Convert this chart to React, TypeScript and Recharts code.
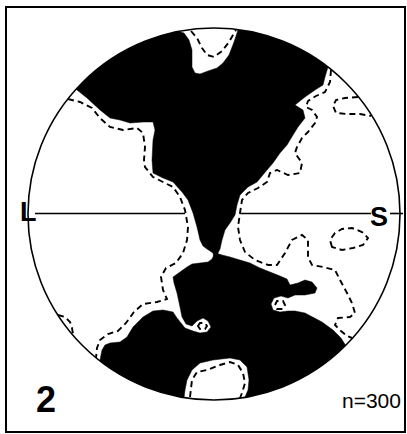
import React from 'react';
import {
  ScatterChart,
  Scatter,
  XAxis,
  YAxis,
  ReferenceDot,
  ReferenceLine,
} from 'recharts';

type Pt = { x: number; y: number };

// Net coordinates: centre at 0,0, primitive circle radius 186 units
const NET_RADIUS = 186;

const p = (list: number[][]): Pt[] => list.map(([x, y]) => ({ x, y }));

// Shaded maximum, upper half (edges outside the circle are clipped away)
const upperMaximum = p([
  [-154, 154], [-144, 130], [-137, 124], [-127, 116], [-114, 104], [-104, 96],
  [-94, 94], [-84, 91], [-71, 92], [-61, 92], [-59, 84], [-61, 74], [-62, 54],
  [-61, 41], [-51, 36], [-41, 32], [-32, 22], [-26, 14], [-21, 1], [-17, -13],
  [-14, -26], [-11, -32], [-7, -35], [-1, -39], [0, -45], [5, -45], [4, -39],
  [6, -35], [8, -26], [11, -16], [16, -9], [21, -1], [23, 9], [26, 19], [34, 27],
  [43, 32], [53, 44], [59, 51], [66, 61], [73, 69], [79, 79], [84, 87], [91, 96],
  [89, 104], [81, 109], [91, 117], [101, 124], [109, 129], [111, 137], [114, 147],
  [131, 159], [86, 204], [26, 204], [24, 184], [20, 172], [15, 159], [9, 151],
  [3, 146], [-6, 143], [-14, 140], [-19, 141], [-22, 147], [-22, 164], [-25, 174],
  [-30, 181], [-37, 183], [-39, 204], [-114, 204],
]);

// Shaded maximum, lower half
const lowerMaximum = p([
  [-129, -161], [-114, -146], [-112, -136], [-109, -131], [-104, -129], [-94, -128],
  [-87, -123], [-81, -113], [-71, -103], [-61, -97], [-51, -96], [-41, -98],
  [-37, -104], [-29, -114], [-21, -117], [-14, -119], [-7, -118], [-3, -113],
  [-6, -107], [-11, -104], [-17, -107], [-22, -112], [-28, -110], [-32, -103],
  [-34, -93], [-37, -79], [-40, -69], [-41, -63], [-34, -58], [-27, -53], [-22, -50],
  [-14, -49], [-6, -48], [-2, -45], [0, -41], [5, -40], [8, -41], [16, -43],
  [26, -46], [36, -49], [46, -54], [56, -58], [66, -62], [73, -65], [76, -71],
  [84, -69], [91, -66], [98, -68], [103, -74], [101, -79], [91, -81], [81, -81],
  [74, -84], [67, -82], [60, -84], [57, -90], [59, -96], [66, -98], [74, -97],
  [81, -97], [91, -99], [108, -108], [119, -116], [127, -124], [132, -132],
  [151, -148], [86, -206], [33, -196], [31, -183], [34, -176], [35, -166],
  [33, -153], [26, -146], [16, -144], [-1, -146], [-14, -149], [-22, -156],
  [-27, -166], [-29, -176], [-30, -184], [-32, -198], [-94, -201],
]);

// Dashed lower contour lines
const westContour = p([
  [-146, 115], [-134, 112], [-122, 106], [-114, 96], [-104, 87], [-91, 84],
  [-77, 86], [-71, 81], [-69, 67], [-70, 54], [-69, 47], [-61, 37], [-51, 32],
  [-41, 27], [-34, 17], [-29, 4], [-26, -13], [-27, -26], [-31, -39], [-38, -49],
  [-48, -54], [-53, -63], [-51, -76], [-47, -85], [-57, -88], [-71, -90],
  [-80, -98], [-88, -109], [-96, -117], [-106, -120], [-114, -126], [-117, -134],
  [-118, -144],
]);

const northContour = p([
  [-23, 183], [-17, 176], [-12, 166], [-7, 159], [0, 157], [8, 163], [15, 172],
  [19, 179], [22, 184],
]);

const eastContour = p([
  [117, 144], [116, 132], [111, 122], [102, 118], [94, 113], [92, 107], [98, 104],
  [103, 97], [101, 91], [94, 82], [88, 76], [83, 67], [81, 61], [88, 51], [86, 41],
  [74, 39], [63, 44], [56, 41], [53, 32], [44, 26], [34, 21], [28, 14], [26, 1],
  [24, -13], [26, -26], [31, -38], [41, -46], [54, -51], [63, -51], [71, -39],
  [78, -26], [88, -21], [94, -26], [94, -43], [98, -51], [109, -53], [121, -56],
  [126, -66], [133, -79], [138, -89], [141, -99], [136, -103], [124, -104],
  [121, -111], [127, -117], [133, -122], [138, -124],
]);

const northEastRim = p([
  [144, 117], [131, 116], [122, 114], [119, 108], [122, 101], [133, 100],
  [146, 100], [157, 98],
]);

const southContour = p([
  [-24, -183], [-22, -166], [-17, -158], [-7, -156], [6, -151], [16, -148],
  [24, -151], [29, -159], [31, -169], [28, -179], [26, -184],
]);

const southWestRim = p([
  [-156, -101], [-149, -103], [-144, -108], [-142, -114], [-141, -120],
]);

// Closed dashed loops
const eastLoop = p([
  [118, -33], [116, -26], [121, -19], [128, -15], [138, -14], [148, -18],
  [154, -24], [149, -31], [139, -34], [128, -36],
]);

const westPocket = p([
  [-16, -112], [-14, -109], [-9, -109], [-7, -112], [-9, -115], [-14, -115],
]);

const eastPocket = p([
  [61, -91], [63, -87], [69, -87], [71, -91], [69, -95], [63, -95],
]);

const openContours = [westContour, northContour, eastContour, northEastRim, southContour, southWestRim];
const closedContours = [eastLoop, westPocket, eastPocket];

const noDot = () => <g />;

const dashed = { stroke: '#000', strokeWidth: 1.9, strokeDasharray: '6 4', fill: 'none' };
const solidFill = { fill: '#000', stroke: '#000', strokeWidth: 0.5, clipPath: 'url(#netClip)' };

const font = "'Liberation Sans', Arial, sans-serif";

export default function App() {
  return (
    <div style={{ position: 'absolute', left: 0, top: 0, width: 407, height: 434, background: '#fff' }}>
      <div
        style={{
          position: 'absolute',
          left: 5,
          top: 6,
          width: 401,
          height: 427,
          border: '2px solid #000',
          boxSizing: 'border-box',
        }}
      />
      <ScatterChart
        width={407}
        height={434}
        margin={{ top: 28, left: 28, right: 7, bottom: 34 }}
        style={{ position: 'absolute', left: 0, top: 0 }}
      >
        <defs>
          <clipPath id="netClip">
            <circle cx={214} cy={214} r={186} />
          </clipPath>
        </defs>
        <XAxis type="number" dataKey="x" domain={[-NET_RADIUS, NET_RADIUS]} allowDataOverflow hide />
        <YAxis type="number" dataKey="y" domain={[-NET_RADIUS, NET_RADIUS]} allowDataOverflow hide />

        <Scatter data={upperMaximum} shape={noDot} line={solidFill} lineJointType="linearClosed" isAnimationActive={false} />
        <Scatter data={lowerMaximum} shape={noDot} line={solidFill} lineJointType="linearClosed" isAnimationActive={false} />

        {openContours.map((c, i) => (
          <Scatter key={`o${i}`} data={c} shape={noDot} line={dashed} lineJointType="linear" isAnimationActive={false} />
        ))}
        {closedContours.map((c, i) => (
          <Scatter key={`c${i}`} data={c} shape={noDot} line={dashed} lineJointType="linearClosed" isAnimationActive={false} />
        ))}

        <ReferenceLine segment={[{ x: -179, y: 0.5 }, { x: -29, y: 0.5 }]} stroke="#000" strokeWidth={1.6} ifOverflow="visible" />
        <ReferenceLine segment={[{ x: 26, y: 0.5 }, { x: 157, y: 0.5 }]} stroke="#000" strokeWidth={1.6} ifOverflow="visible" />
        <ReferenceLine segment={[{ x: 176, y: 0.5 }, { x: 189, y: 0.5 }]} stroke="#000" strokeWidth={1.6} ifOverflow="visible" />

        <ReferenceDot x={0} y={0} r={NET_RADIUS} fill="none" stroke="#000" strokeWidth={1.6} ifOverflow="visible" />

        <text x={20} y={221} fontFamily={font} fontWeight="bold" fontSize={27} fill="#000">L</text>
        <text x={370} y={226} fontFamily={font} fontWeight="bold" fontSize={27} fill="#000">S</text>
        <text x={36} y={412} fontFamily={font} fontWeight="bold" fontSize={36} fill="#000">2</text>
        <text x={342} y={408} fontFamily={font} fontSize={21} fill="#000">n=300</text>
      </ScatterChart>
    </div>
  );
}
